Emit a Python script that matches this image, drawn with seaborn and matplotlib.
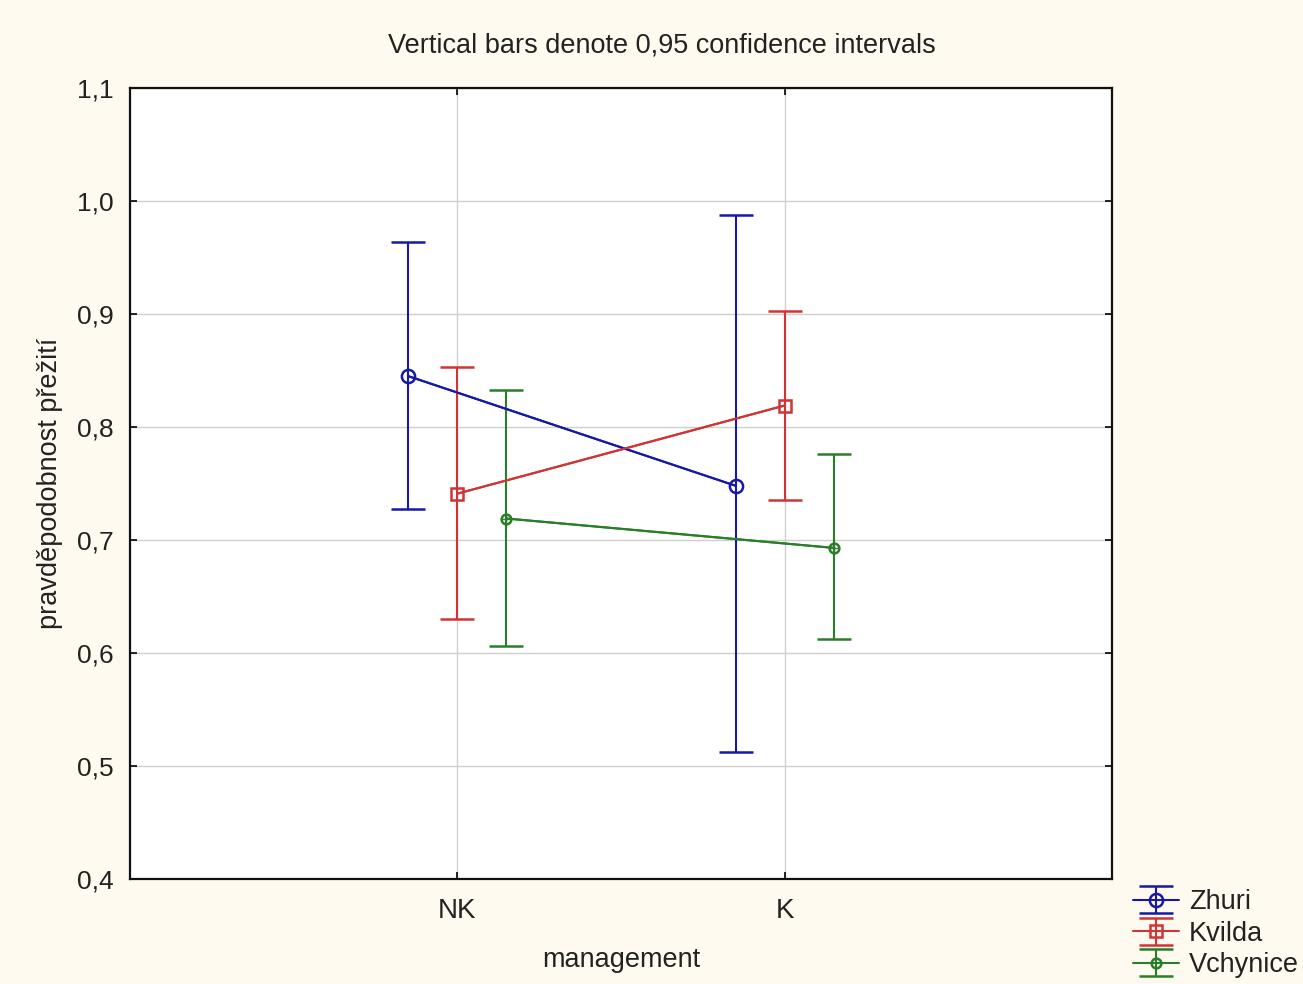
import matplotlib
matplotlib.use("Agg")
import matplotlib.pyplot as plt
import seaborn as sns
import pandas as pd
import numpy as np

# ---- data ----
categories = ["NK", "K"]
groups = ["Zhuri", "Kvilda", "Vchynice"]
means_zhuri = [0.845, 0.748]
lower_zhuri = [0.727, 0.512]
upper_zhuri = [0.964, 0.988]
means_kvilda = [0.741, 0.819]
lower_kvilda = [0.630, 0.735]
upper_kvilda = [0.853, 0.903]
means_vchynice = [0.719, 0.693]
lower_vchynice = [0.606, 0.612]
upper_vchynice = [0.833, 0.776]
y_ticks = [0.4, 0.5, 0.6, 0.7, 0.8, 0.9, 1.0, 1.1]
y_tick_labels = ["0,4", "0,5", "0,6", "0,7", "0,8", "0,9", "1,0", "1,1"]

sns.set_theme(style="white")
plt.rcParams["font.family"] = ["Liberation Sans", "DejaVu Sans"]

bg = "#FFFAEF"
fig = plt.figure(figsize=(13.03, 9.84), dpi=100, facecolor=bg)
ax = fig.add_axes([0.0998, 0.1067, 0.7536, 0.8039])
ax.set_facecolor("white")

colors = ["#1818A8", "#D03434", "#2A7E2A"]
markers = ["o", "s", "o"]
msizes = [9.5, 8.5, 7]
offsets = [-0.15, 0.0, 0.15]

rows = []
for g, m, lo, up in zip(groups,
                        [means_zhuri, means_kvilda, means_vchynice],
                        [lower_zhuri, lower_kvilda, lower_vchynice],
                        [upper_zhuri, upper_kvilda, upper_vchynice]):
    for i, c in enumerate(categories):
        rows.append({"group": g, "management": c, "idx": i,
                     "mean": m[i], "lower": lo[i], "upper": up[i]})
df = pd.DataFrame(rows)

handles = []
for g, col, mk, ms, off in zip(groups, colors, markers, msizes, offsets):
    d = df[df["group"] == g].copy()
    d["xpos"] = d["idx"] + off
    sns.lineplot(data=d, x="xpos", y="mean", ax=ax, color=col, lw=1.5,
                 legend=False, zorder=3)
    h = ax.errorbar(d["xpos"], d["mean"],
                    yerr=[d["mean"] - d["lower"], d["upper"] - d["mean"]],
                    fmt=mk, color=col, ecolor=col, elinewidth=1.5,
                    capsize=12, capthick=1.5, markersize=ms,
                    markerfacecolor="none", markeredgecolor=col,
                    markeredgewidth=1.8, lw=1.5, ls="-", zorder=4)
    if g == "Vchynice":
        ax.plot(d["xpos"], d["mean"], marker="+", ls="none", color=col,
                markersize=7, markeredgewidth=1.0, zorder=5)
    handles.append(h)

ax.set_xlim(-1, 2)
ax.set_ylim(0.4, 1.1)
ax.set_xticks(range(len(categories)))
ax.set_xticklabels(categories)
ax.set_yticks(y_ticks)
ax.set_yticklabels(y_tick_labels)
ax.grid(True, color="#CFCFCF", lw=1.0)
ax.set_axisbelow(True)
ax.tick_params(axis="both", direction="in", length=5, width=1.2, colors="black",
               labelsize=19, labelcolor="#222222", top=True, right=True,
               left=True, bottom=True)
ax.tick_params(axis="x", pad=14, labelsize=20)
ax.tick_params(axis="y", pad=12)
for s in ax.spines.values():
    s.set_color("#111111")
    s.set_linewidth(1.6)

ax.set_xlabel("management", fontsize=19.5, color="#222222", labelpad=16)
ax.set_ylabel("pravděpodobnost přežití", fontsize=19.5, color="#222222", labelpad=10)
fig.text(662 / 1303, 1 - 46 / 984, "Vertical bars denote 0,95 confidence intervals",
         fontsize=19.5, color="#222222", ha="center", va="center")

leg = fig.legend(handles, groups, loc="upper left",
                 bbox_to_anchor=(1128 / 1303, 1 - 884 / 984), frameon=False,
                 fontsize=19.5, handlelength=1.7, handletextpad=0.35,
                 labelspacing=0.2, borderaxespad=0.0, borderpad=0.2)
for t in leg.get_texts():
    t.set_color("#222222")

fig.savefig("out.png", dpi=100, facecolor=bg)
